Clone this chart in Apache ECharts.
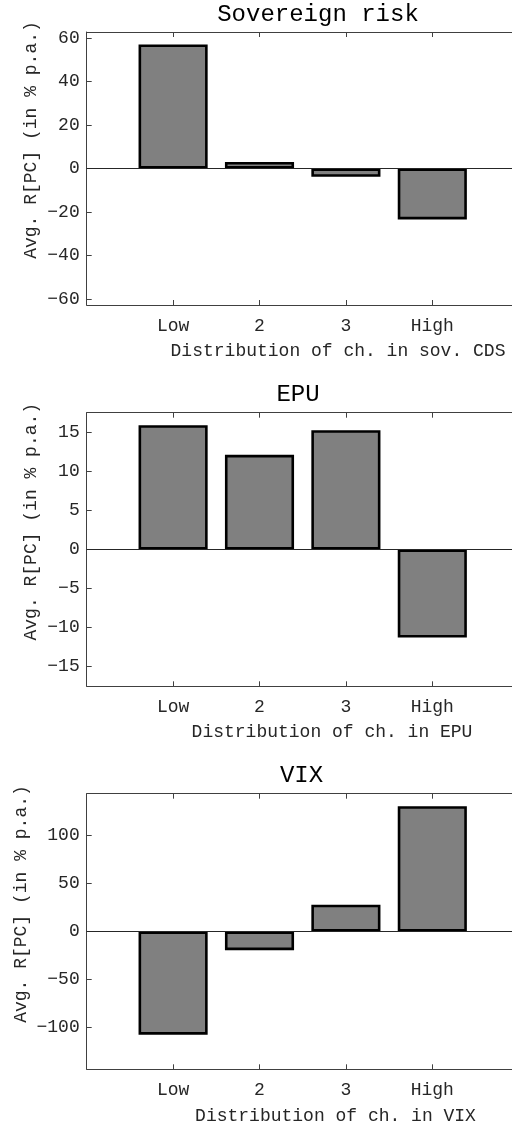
<!DOCTYPE html>
<html>
<head>
<meta charset="utf-8">
<script src="https://cdn.jsdelivr.net/npm/echarts@6/dist/echarts.min.js"></script>
<style>
html,body{margin:0;padding:0;background:#fff;}
#chart{width:512px;height:1126px;}
</style>
</head>
<body>
<div id="chart"></div>
<script>
// ---- data ----
var categories = ['Low', '2', '3', 'High'];
var sovValues = [57.0, 3.0, -3.8, -23.4];
var epuValues = [15.95, 12.15, 15.3, -11.3];
var vixValues = [-107.6, -19.5, 27.9, 130.6];
var sovTicks = [-60, -40, -20, 0, 20, 40, 60];
var epuTicks = [-15, -10, -5, 0, 5, 10, 15];
var vixTicks = [-100, -50, 0, 50, 100];
var yLimits = [62.7, 17.55, 143.7];
var titles = ['Sovereign risk', 'EPU', 'VIX'];
var xNames = ['Distribution of ch. in sov. CDS', 'Distribution of ch. in EPU', 'Distribution of ch. in VIX'];
var yName = 'Avg. R[PC] (in % p.a.)';

// ---- layout / style ----
var FONT = "'Courier New', Courier, 'Liberation Mono', monospace";
var TXT = '#262626';
var AX = '#404040';
var panels = [
  {values: sovValues, ticks: sovTicks, lim: yLimits[0], top: 32, height: 273,
   title: [318, 15], xname: [338, 351.7], yname: [31.5, 140]},
  {values: epuValues, ticks: epuTicks, lim: yLimits[1], top: 412.7, height: 273.6,
   title: [298, 395], xname: [332, 732.7], yname: [31.7, 521.7]},
  {values: vixValues, ticks: vixTicks, lim: yLimits[2], top: 793.7, height: 275.6,
   title: [301.5, 776], xname: [335.5, 1116], yname: [21, 904]}
];
var paddedCats = [''].concat(categories).concat(['']);

var grid = [], xAxis = [], yAxis = [], series = [], graphic = [];
panels.forEach(function (p, i) {
  grid.push({left: 86.7, width: 432, top: p.top, height: p.height, containLabel: false, outerBoundsMode: 'none'});
  var tickFilter = function (idx, val) { return val !== ''; };
  xAxis.push({
    type: 'category', gridIndex: i, data: paddedCats, boundaryGap: false, position: 'bottom',
    axisLine: {show: true, onZero: false, lineStyle: {color: AX, width: 1}},
    axisTick: {show: true, inside: true, length: 5, interval: tickFilter, lineStyle: {color: AX}},
    axisLabel: {show: true, interval: 0, margin: 12, color: TXT, fontFamily: FONT, fontSize: 18},
    splitLine: {show: false}
  });
  xAxis.push({
    type: 'category', gridIndex: i, data: paddedCats, boundaryGap: false, position: 'top',
    axisLine: {show: true, onZero: false, lineStyle: {color: AX, width: 1}},
    axisTick: {show: true, inside: true, length: 5, interval: tickFilter, lineStyle: {color: AX}},
    axisLabel: {show: false},
    splitLine: {show: false}
  });
  yAxis.push({
    type: 'value', gridIndex: i, min: -p.lim, max: p.lim,
    axisLine: {show: true, lineStyle: {color: AX, width: 1}},
    axisTick: {show: true, inside: true, length: 5, customValues: p.ticks, lineStyle: {color: AX}},
    axisLabel: {show: true, margin: 7, customValues: p.ticks, color: TXT, fontFamily: FONT, fontSize: 18,
      formatter: function (v) { return String(v).replace('-', '\u2212'); }},
    splitLine: {show: false}
  });
  series.push({
    type: 'bar', xAxisIndex: i * 2, yAxisIndex: i,
    data: [null].concat(p.values).concat([null]),
    barWidth: '80%',
    itemStyle: {color: '#808080', borderColor: '#000', borderWidth: 2.6},
    silent: true, animation: false,
    markLine: {
      silent: true, symbol: 'none', animation: false,
      label: {show: false},
      lineStyle: {color: '#262626', width: 1, type: 'solid'},
      data: [{yAxis: 0}]
    }
  });
  graphic.push({type: 'text', x: p.title[0], y: p.title[1], silent: true,
    style: {text: titles[i], fill: '#000', font: '24px ' + FONT, align: 'center', verticalAlign: 'middle'}});
  graphic.push({type: 'text', x: p.xname[0], y: p.xname[1], silent: true,
    style: {text: xNames[i], fill: TXT, font: '18px ' + FONT, align: 'center', verticalAlign: 'middle'}});
  graphic.push({type: 'text', x: p.yname[0], y: p.yname[1], rotation: Math.PI / 2, silent: true,
    style: {text: yName, fill: TXT, font: '18px ' + FONT, align: 'center', verticalAlign: 'middle'}});
});

var chart = echarts.init(document.getElementById('chart'), null, {renderer: 'canvas'});
chart.setOption({
  animation: false,
  backgroundColor: '#fff',
  grid: grid, xAxis: xAxis, yAxis: yAxis, series: series, graphic: graphic
});
</script>
</body>
</html>
